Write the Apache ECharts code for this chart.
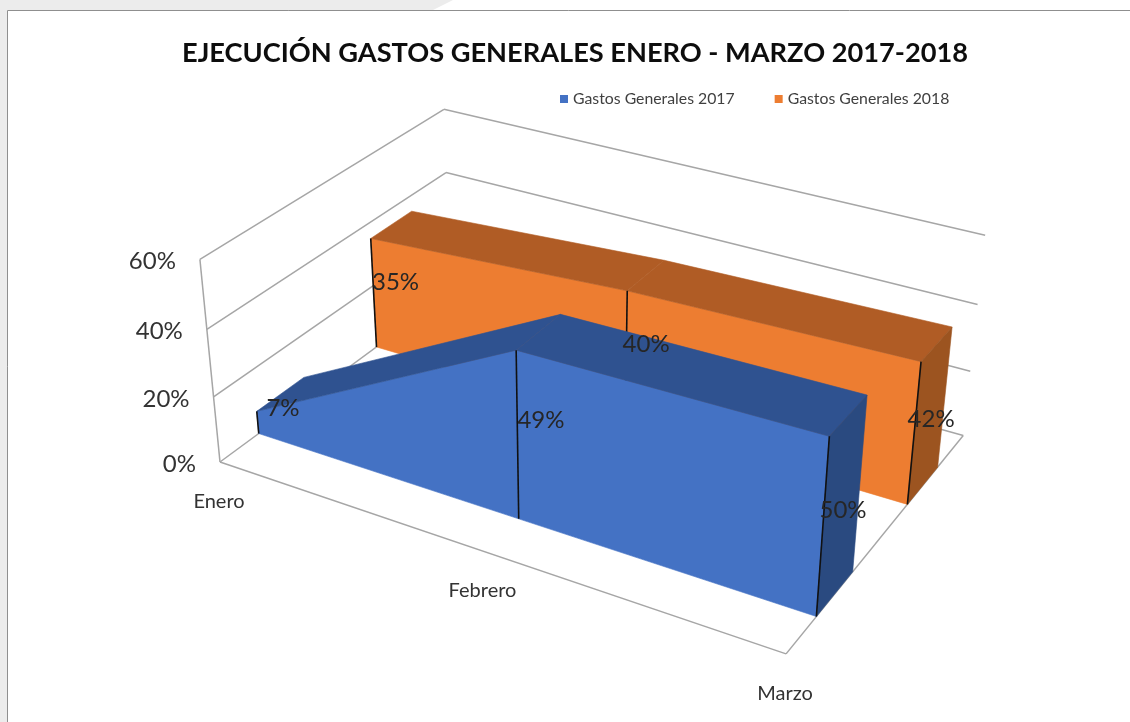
<!DOCTYPE html>
<html>
<head>
<meta charset="utf-8">
<title>Ejecución gastos generales</title>
<style>
  html, body { margin: 0; padding: 0; background: #fff; }
  #chart { width: 1130px; height: 722px; }
</style>
<script src="https://cdn.jsdelivr.net/npm/echarts@6/dist/echarts.min.js"></script>
</head>
<body>
<div id="chart"></div>
<script>
const titleText = 'EJECUCIÓN GASTOS GENERALES ENERO - MARZO 2017-2018'
const categories = ['Enero', 'Febrero', 'Marzo']
const gastos2017 = [7, 49, 50]
const gastos2018 = [35, 40, 42]
const yTicks = [0, 20, 40, 60]

const FONT = 'Lato, "Noto Sans", sans-serif'
const GRID_W = 1000
const GRID_H = 600

// camera fitted to the walls of the Excel 3D chart: vanishing points + origin
const cam = {
  a: -0.1293, b: 0.1475, c: -0.054,
  vu: [-3592, -830], vd: [2009, -853], vh: [572, 4012],
  o: [220, 462]
}

// u along categories, d into the depth, h up the value axis, all 0..1
function project(u, d, h) {
  const w = cam.a * u + cam.b * d + cam.c * h + 1
  return [0, 1].map(k =>
    (cam.a * cam.vu[k] * u + cam.b * cam.vd[k] * d + cam.c * cam.vh[k] * h + cam.o[k]) / w
  )
}

// the hidden grid gives the category / value scales, project() only adds the depth
function scaled(api, cat, val) {
  const p = api.coord([cat, val])
  return { u: p[0] / GRID_W, h: (GRID_H - p[1]) / GRID_H }
}

function poly(points, fill) {
  return {
    type: 'polygon',
    shape: { points },
    style: { fill, stroke: fill, lineWidth: 0.6 }
  }
}

function seg(p, q, stroke, lineWidth, z2) {
  return {
    type: 'line',
    z2: z2 || 0,
    shape: { x1: p[0], y1: p[1], x2: q[0], y2: q[1] },
    style: { stroke, lineWidth }
  }
}

function label(text, p, dx, dy, size, fill, align) {
  return {
    type: 'text',
    style: {
      text, x: p[0] + dx, y: p[1] + dy, fill,
      font: size + 'px ' + FONT,
      align: align || 'center', verticalAlign: 'middle'
    }
  }
}

function solidRenderer(values, band, colors) {
  return (params, api) => {
    const i = params.dataIndex
    const top = scaled(api, i, values[i])
    const base = scaled(api, i, 0)
    const children = [
      seg(project(top.u, band[0], top.h), project(base.u, band[0], 0), '#111', 1.6, 3)
    ]
    if (i < values.length - 1) {
      const nTop = scaled(api, i + 1, values[i + 1])
      children.push(poly([
        project(base.u, band[0], 0), project(top.u, band[0], top.h),
        project(nTop.u, band[0], nTop.h), project(nTop.u, band[0], 0)
      ], colors.front))
      children.push(poly([
        project(top.u, band[0], top.h), project(top.u, band[1], top.h),
        project(nTop.u, band[1], nTop.h), project(nTop.u, band[0], nTop.h)
      ], colors.top))
    } else {
      children.push(poly([
        project(top.u, band[0], top.h), project(top.u, band[1], top.h),
        project(top.u, band[1], 0), project(top.u, band[0], 0)
      ], colors.side))
    }
    return { type: 'group', children }
  }
}

function renderWalls(params, api) {
  const gridColor = '#a6a6a6'
  const children = []
  yTicks.forEach(t => {
    const h = scaled(api, 0, t).h
    children.push(seg(project(0, 0, h), project(0, 1, h), gridColor, 1.5))
    children.push(seg(project(0, 1, h), project(1, 1, h), gridColor, 1.5))
    children.push(label(t + '%', project(0, 0, h), -24, 2, 24, '#333', 'right'))
  })
  children.push(seg(project(0, 0, 0), project(0, 0, 1), gridColor, 1.5))
  children.push(seg(project(0, 0, 0), project(1, 0, 0), gridColor, 1.5))
  children.push(seg(project(1, 0, 0), project(1, 1, 0), gridColor, 1.5))
  categories.forEach((c, i) => {
    children.push(label(c, project(scaled(api, i, 0).u, 0, 0), -1, 39.5, 20, '#333'))
  })
  return { type: 'group', children }
}

function labelRenderer(values, band) {
  return (params, api) => {
    const i = params.dataIndex
    const mid = scaled(api, i, values[i] / 2)
    const depth = (band[0] + band[1]) / 2
    return label(values[i] + '%', project(mid.u, depth, mid.h), 1.5, 3, 24, '#262626')
  }
}

const band2017 = [0.15, 0.34]
const band2018 = [0.65, 0.835]
const toRows = values => values.map((v, i) => [i, v])

const chart = echarts.init(document.getElementById('chart'))
chart.setOption({
  animation: false,
  textStyle: { fontFamily: FONT },
  title: {
    text: titleText,
    left: 177,
    top: 35,
    textStyle: { fontFamily: FONT, fontSize: 27.2, fontWeight: 'bold', color: '#0d0d0d' }
  },
  legend: {
    data: ['Gastos Generales 2017', 'Gastos Generales 2018'],
    left: 555,
    top: 86,
    icon: 'rect',
    itemWidth: 8,
    itemHeight: 8,
    itemGap: 40,
    textStyle: { fontFamily: FONT, fontSize: 15.8, color: '#404040' }
  },
  grid: { left: 0, top: 0, width: GRID_W, height: GRID_H, show: false },
  xAxis: { type: 'category', data: categories, boundaryGap: false, show: false },
  yAxis: { type: 'value', min: 0, max: 60, interval: 20, show: false },
  graphic: [
    {
      type: 'polygon',
      silent: true,
      z: -1,
      shape: { points: [[0, 0], [453, 0], [433, 10], [7, 10], [7, 722], [0, 722]] },
      style: { fill: '#ececec' }
    },
    {
      type: 'polyline',
      silent: true,
      z: -1,
      shape: { points: [[7.5, 722], [7.5, 10.5], [1130, 10.5]] },
      style: { stroke: '#8f8f8f', lineWidth: 1, fill: 'none' }
    }
  ],
  series: [
    {
      type: 'custom',
      name: 'paredes',
      coordinateSystem: 'cartesian2d',
      silent: true,
      z: 1,
      clip: false,
      encode: { x: 0, y: 1 },
      data: [[0, 0]],
      renderItem: renderWalls
    },
    {
      type: 'custom',
      name: 'Gastos Generales 2018',
      coordinateSystem: 'cartesian2d',
      silent: true,
      z: 2,
      clip: false,
      encode: { x: 0, y: 1 },
      itemStyle: { color: '#ed7d31' },
      data: toRows(gastos2018),
      renderItem: solidRenderer(gastos2018, band2018, {
        front: '#ed7d31', top: '#b05c25', side: '#9c5420'
      })
    },
    {
      type: 'custom',
      name: 'Gastos Generales 2017',
      coordinateSystem: 'cartesian2d',
      silent: true,
      z: 3,
      clip: false,
      encode: { x: 0, y: 1 },
      itemStyle: { color: '#4472c4' },
      data: toRows(gastos2017),
      renderItem: solidRenderer(gastos2017, band2017, {
        front: '#4472c4', top: '#2f5290', side: '#2a4a80'
      })
    },
    {
      type: 'custom',
      name: 'etiquetas 2018',
      coordinateSystem: 'cartesian2d',
      silent: true,
      z: 4,
      clip: false,
      encode: { x: 0, y: 1 },
      data: toRows(gastos2018),
      renderItem: labelRenderer(gastos2018, band2018)
    },
    {
      type: 'custom',
      name: 'etiquetas 2017',
      coordinateSystem: 'cartesian2d',
      silent: true,
      z: 4,
      clip: false,
      encode: { x: 0, y: 1 },
      data: toRows(gastos2017),
      renderItem: labelRenderer(gastos2017, band2017)
    }
  ]
})
</script>
</body>
</html>
